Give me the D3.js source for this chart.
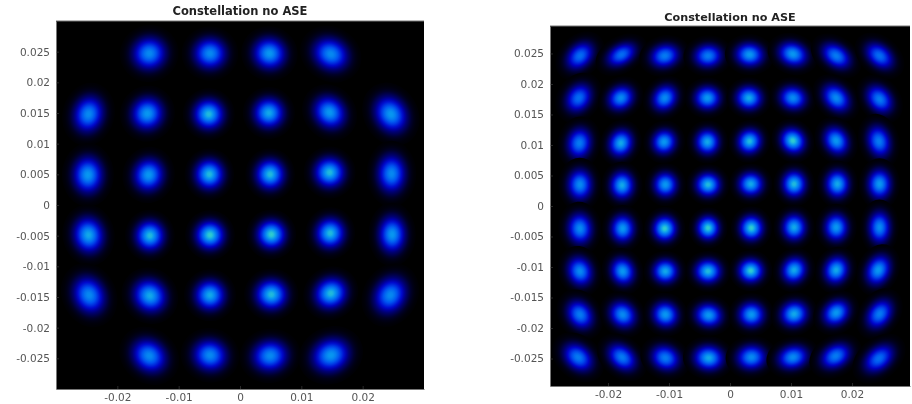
<!DOCTYPE html>
<html>
<head>
<meta charset="utf-8">
<script src="https://cdn.jsdelivr.net/npm/d3@7"></script>
<style>
    html, body { margin: 0; padding: 0; background: #fff; }
    svg { display: block; }
    text { font-family: "DejaVu Sans", sans-serif; }
</style>
</head>
<body>
<div id="chart"></div>
<script>
const title_text = "Constellation no ASE";
const x_ticks = [-0.02, -0.01, 0, 0.01, 0.02];
const y_ticks = [0.025, 0.02, 0.015, 0.01, 0.005, 0, -0.005, -0.01, -0.015, -0.02, -0.025];

// Left constellation (32 points).
// Sigmas are in units of 0.001, angle is degrees on screen, peak is 0..1 on the colour ramp
const left_x = [
    -0.0148, -0.0049, 0.0048, 0.0148,
    -0.0247, -0.0151, -0.0051, 0.0047, 0.0146, 0.0246,
    -0.0248, -0.0149, -0.0050, 0.0049, 0.0146, 0.0247,
    -0.0247, -0.0147, -0.0049, 0.0051, 0.0147, 0.0248,
    -0.0246, -0.0147, -0.0049, 0.0051, 0.0148, 0.0245,
    -0.0148, -0.0049, 0.0049, 0.0148
];
const left_y = [
    0.0247, 0.0247, 0.0247, 0.0246,
    0.0148, 0.0149, 0.0148, 0.0150, 0.0151, 0.0148,
    0.0049, 0.0049, 0.0050, 0.0050, 0.0053, 0.0051,
    -0.0049, -0.0050, -0.0049, -0.0048, -0.0046, -0.0048,
    -0.0147, -0.0148, -0.0147, -0.0146, -0.0144, -0.0147,
    -0.0246, -0.0245, -0.0246, -0.0245
];
const left_major = [
    1.25, 1.2, 1.2, 1.35,
    1.35, 1.2, 1.1, 1.1, 1.25, 1.4,
    1.35, 1.2, 1.1, 1.1, 1.1, 1.4,
    1.3, 1.1, 1.05, 1.05, 1.1, 1.35,
    1.4, 1.25, 1.1, 1.15, 1.2, 1.4,
    1.35, 1.25, 1.3, 1.4
];
const left_minor = [
    1.2, 1.15, 1.15, 1.15,
    1.1, 1.15, 1.1, 1.1, 1.1, 1.15,
    1.1, 1.1, 1.05, 1.05, 1.1, 1.05,
    1.1, 1.05, 1.05, 1.05, 1.05, 1.0,
    1.15, 1.15, 1.1, 1.1, 1.1, 1.15,
    1.15, 1.15, 1.15, 1.2
];
const left_angle = [
    20, 0, -20, -30,
    75, 60, 20, -10, -50, -60,
    90, 75, 90, 90, 0, 90,
    100, 90, 90, 90, 80, 90,
    -65, -45, -20, 0, 35, 60,
    -40, -15, 10, 25
];
const left_peak = [
    0.75, 0.75, 0.8, 0.75,
    0.75, 0.8, 0.9, 0.85, 0.8, 0.8,
    0.8, 0.8, 0.9, 0.9, 0.9, 0.75,
    0.85, 0.9, 0.95, 0.95, 0.9, 0.8,
    0.75, 0.85, 0.85, 0.9, 0.9, 0.75,
    0.75, 0.75, 0.75, 0.8
];

// Right constellation (64 points)
const right_x = [
    -0.0246, -0.0178, -0.0107, -0.0036, 0.0032, 0.0103, 0.0174, 0.0245,
    -0.0248, -0.0179, -0.0107, -0.0037, 0.0031, 0.0103, 0.0174, 0.0245,
    -0.0247, -0.0179, -0.0108, -0.0037, 0.0032, 0.0103, 0.0174, 0.0244,
    -0.0246, -0.0177, -0.0106, -0.0036, 0.0034, 0.0105, 0.0176, 0.0245,
    -0.0246, -0.0176, -0.0107, -0.0036, 0.0035, 0.0105, 0.0174, 0.0245,
    -0.0246, -0.0176, -0.0106, -0.0036, 0.0034, 0.0105, 0.0174, 0.0243,
    -0.0246, -0.0176, -0.0106, -0.0035, 0.0035, 0.0105, 0.0174, 0.0245,
    -0.0249, -0.0177, -0.0106, -0.0035, 0.0035, 0.0103, 0.0173, 0.0244
];
const right_y = [
    0.0246, 0.0248, 0.0246, 0.0246, 0.0248, 0.0249, 0.0246, 0.0246,
    0.0177, 0.0177, 0.0177, 0.0177, 0.0177, 0.0177, 0.0177, 0.0175,
    0.0103, 0.0103, 0.0105, 0.0105, 0.0106, 0.0107, 0.0107, 0.0106,
    0.0035, 0.0034, 0.0035, 0.0035, 0.0036, 0.0036, 0.0036, 0.0036,
    -0.0037, -0.0037, -0.0037, -0.0036, -0.0036, -0.0035, -0.0035, -0.0035,
    -0.0107, -0.0107, -0.0107, -0.0107, -0.0106, -0.0105, -0.0105, -0.0105,
    -0.0178, -0.0178, -0.0178, -0.0179, -0.0178, -0.0177, -0.0175, -0.0177,
    -0.0248, -0.0248, -0.0249, -0.0249, -0.0248, -0.0248, -0.0246, -0.0250
];
const right_major = [
    1.3, 1.3, 1.2, 1.15, 1.15, 1.2, 1.3, 1.3,
    1.25, 1.1, 1.1, 1.05, 1.05, 1.1, 1.25, 1.25,
    1.25, 1.1, 1.0, 1.0, 1.0, 1.05, 1.15, 1.3,
    1.25, 1.1, 1.0, 1.0, 1.0, 1.05, 1.1, 1.2,
    1.25, 1.1, 1.0, 0.95, 1.0, 1.05, 1.1, 1.3,
    1.2, 1.1, 1.0, 1.05, 1.0, 1.05, 1.1, 1.25,
    1.25, 1.15, 1.05, 1.1, 1.05, 1.1, 1.15, 1.3,
    1.35, 1.3, 1.2, 1.2, 1.2, 1.25, 1.3, 1.4
];
const right_minor = [
    0.95, 0.85, 0.95, 0.95, 0.95, 0.95, 0.9, 0.9,
    1.0, 0.95, 0.95, 0.95, 0.95, 0.95, 0.95, 0.95,
    1.0, 0.95, 0.95, 0.95, 0.95, 0.95, 0.95, 0.95,
    1.0, 0.95, 0.95, 0.95, 0.95, 0.95, 0.95, 0.95,
    1.0, 0.95, 0.95, 0.9, 0.95, 0.95, 0.95, 0.9,
    1.0, 0.95, 0.95, 0.95, 0.95, 0.95, 0.95, 0.95,
    1.0, 1.0, 1.0, 0.95, 1.0, 1.0, 0.95, 0.95,
    1.0, 0.95, 1.0, 1.0, 1.0, 0.95, 0.95, 0.95
];
const right_angle = [
    45, 30, 15, 5, -5, -20, -35, -40,
    55, 35, 50, 0, -5, -15, -45, -50,
    80, 70, 60, 90, 60, -50, -60, -75,
    90, 90, 90, 0, 0, 90, 90, 90,
    95, 90, 90, 90, 90, 90, 90, 90,
    -70, -70, 0, 0, 0, 60, 70, 65,
    -55, -45, -35, -10, 0, 20, 40, 55,
    -40, -40, -25, -5, 5, 15, 30, 40
];
const right_peak = [
    0.65, 0.65, 0.7, 0.7, 0.8, 0.8, 0.7, 0.65,
    0.65, 0.75, 0.75, 0.8, 0.85, 0.75, 0.75, 0.7,
    0.7, 0.85, 0.8, 0.85, 0.9, 0.95, 0.8, 0.7,
    0.75, 0.85, 0.8, 0.9, 0.85, 0.9, 0.85, 0.8,
    0.75, 0.8, 0.95, 0.95, 0.95, 0.85, 0.8, 0.75,
    0.75, 0.8, 0.85, 0.9, 0.95, 0.85, 0.85, 0.8,
    0.7, 0.75, 0.8, 0.8, 0.8, 0.85, 0.8, 0.7,
    0.7, 0.7, 0.7, 0.85, 0.75, 0.75, 0.7, 0.65
];

// Colour ramp of the density plot
const ramp_stops = [0, 0.1, 0.3, 0.55, 0.8, 1];
const ramp_colours = ["#000000", "#000050", "#0000c8", "#0050f0", "#0898f0", "#40e0c0"];
const colour = d3.scaleLinear().domain(ramp_stops).range(ramp_colours);

// how many sigmas the gradient runs out to, and the overall sigma scale
const t_sigmas = 3.2;
const spread = {left: 1.2, right: 1.1};

const svg = d3.select("#chart").append("svg")
    .attr("width", 912)
    .attr("height", 404);

const defs = svg.append("defs");
defs.append("filter").attr("id", "soft")
    .append("feGaussianBlur").attr("stdDeviation", 0.4);

function panel(id, box, x_max, title, data){

    const x_scale = d3.scaleLinear().domain([-x_max, x_max]).range([box.left, box.right]);
    const y_scale = d3.scaleLinear().domain([-x_max, x_max]).range([box.bottom, box.top]);

    const vis = svg.append("g").attr("class", id);

    vis.append("rect")
        .attr("x", box.left)
        .attr("y", box.top)
        .attr("width", box.right - box.left)
        .attr("height", box.bottom - box.top)
        .attr("fill", "#000");

    // one gradient per point, gaussian falloff pushed through the colour ramp
    const clusters = data.x.map((d, i) => ({
        x: d, y: data.y[i], major: data.major[i], minor: data.minor[i],
        angle: data.angle[i], peak: data.peak[i], id: id + "_c" + i
    }));

    const offsets = d3.range(0, 1.001, 0.08);
    const grads = defs.selectAll("radialGradient." + id)
        .data(clusters)
        .enter().append("radialGradient")
        .attr("class", id)
        .attr("id", (d) => d.id);
    grads.selectAll("stop")
        .data((d) => offsets.map((t) => ({t: t, peak: d.peak})))
        .enter().append("stop")
        .attr("offset", (s) => s.t)
        .attr("stop-color", (s) => colour(s.peak * Math.exp(-Math.pow(t_sigmas * s.t, 2) / 2)));

    const k = t_sigmas * spread[id] * 0.001;
    vis.selectAll("ellipse")
        .data(clusters)
        .enter().append("ellipse")
        .attr("rx", (d) => x_scale(k * d.major) - x_scale(0))
        .attr("ry", (d) => x_scale(k * d.minor) - x_scale(0))
        .attr("fill", (d) => "url(#" + d.id + ")")
        .attr("transform", (d) => "translate(" + x_scale(d.x) + "," + y_scale(d.y) + ") rotate(" + (-d.angle) + ")");

    const x_axis = d3.axisBottom(x_scale).tickValues(x_ticks)
        .tickSizeInner(-3).tickSizeOuter(0).tickPadding(5).tickFormat((d) => d);
    const y_axis = d3.axisLeft(y_scale).tickValues(y_ticks)
        .tickSizeInner(-3).tickSizeOuter(0).tickPadding(6).tickFormat((d) => d);

    const axes = vis.append("g").attr("class", "axes");
    axes.append("g").attr("transform", "translate(0," + box.bottom + ")").call(x_axis);
    axes.append("g").attr("transform", "translate(" + box.left + ",0)").call(y_axis);

    axes.selectAll(".domain").attr("stroke", "#777").attr("stroke-width", 1);
    axes.selectAll(".tick line").attr("stroke", "#555").attr("stroke-width", 0.5);
    axes.selectAll("text")
        .attr("font-size", 10.5)
        .attr("fill", "#555")
        .attr("filter", "url(#soft)");

    vis.append("path")
        .attr("d", "M" + box.left + "," + box.top + "H" + box.right)
        .attr("stroke", "#777")
        .attr("fill", "none");

    vis.append("text")
        .attr("x", (box.left + box.right) / 2)
        .attr("y", title.y)
        .attr("text-anchor", "middle")
        .attr("font-size", title.size)
        .attr("font-weight", "bold")
        .attr("fill", "#222")
        .attr("filter", "url(#soft)")
        .text(title_text);
}

panel("left", {left: 56, right: 424, top: 21, bottom: 389}, 0.03, {y: 15, size: 11.5},
    {x: left_x, y: left_y, major: left_major, minor: left_minor, angle: left_angle, peak: left_peak});

panel("right", {left: 550, right: 910, top: 26, bottom: 386}, 0.0295, {y: 21, size: 11.2},
    {x: right_x, y: right_y, major: right_major, minor: right_minor, angle: right_angle, peak: right_peak});
</script>
</body>
</html>
